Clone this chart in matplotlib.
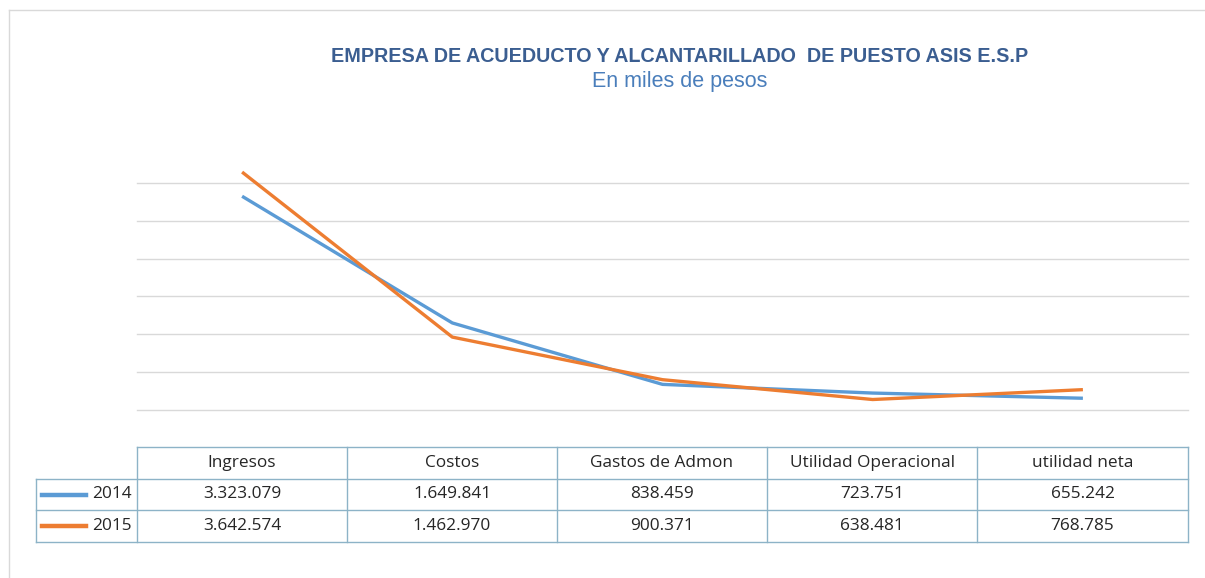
import matplotlib.pyplot as plt
from matplotlib.lines import Line2D

categorias = ['Ingresos', 'Costos', 'Gastos de Admon', 'Utilidad Operacional', 'utilidad neta']
anios = ['2014', '2015']
v2014 = [3323079, 1649841, 838459, 723751, 655242]
v2015 = [3642574, 1462970, 900371, 638481, 768785]
colores = ['#5B9BD5', '#ED7D31']

plt.rcParams['font.family'] = ['Liberation Sans', 'DejaVu Sans']

W, H = 1205, 578
fig = plt.figure(figsize=(W / 100, H / 100), dpi=100)

def fx(px):
    return px / W

def fy(py):
    return 1 - py / H

# area del grafico
ax = fig.add_axes([fx(137), fy(410), fx(1188) - fx(137), fy(145) - fy(410)])
for serie, c in zip([v2014, v2015], colores):
    ax.plot(range(len(categorias)), serie, color=c, lw=2.4, solid_capstyle='butt')
ax.set_xlim(-0.5, len(categorias) - 0.5)
ax.set_ylim(500000, 4000000)
ax.set_yticks(range(500000, 4000000, 500000))
ax.grid(axis='y', color='#D9D9D9', lw=1)
ax.set_axisbelow(True)
for g in ax.get_ygridlines():
    g.set_clip_on(False)
ax.tick_params(left=False, bottom=False, labelleft=False, labelbottom=False)
for s in ax.spines.values():
    s.set_visible(False)

# titulos
fig.text(fx(680), fy(57), 'EMPRESA DE ACUEDUCTO Y ALCANTARILLADO  DE PUESTO ASIS E.S.P',
         ha='center', va='center', fontsize=14.2, fontweight='bold', color='#3B5E91')
fig.text(fx(680), fy(81), 'En miles de pesos', ha='center', va='center',
         fontsize=15.5, color='#4A7EBB')

# tabla de datos
borde = '#8DB3C7'
col_x = [137, 347, 557, 767, 977, 1188]
fil_y = [447, 479, 510, 542]
izq = 36

def linea(x0, y0, x1, y1):
    fig.add_artist(Line2D([fx(x0), fx(x1)], [fy(y0), fy(y1)], color=borde, lw=1))

linea(col_x[0], fil_y[0], col_x[-1], fil_y[0])
for yy in fil_y[1:]:
    linea(izq, yy, col_x[-1], yy)
for xx in col_x:
    linea(xx, fil_y[0], xx, fil_y[-1])
linea(izq, fil_y[1], izq, fil_y[-1])

tfont = ['Open Sans', 'DejaVu Sans']
tsize = 12.4
for i, cat in enumerate(categorias):
    cx = (col_x[i] + col_x[i + 1]) / 2
    fig.text(fx(cx), fy((fil_y[0] + fil_y[1]) / 2), cat, ha='center', va='center',
             fontsize=tsize, color='#262626', family=tfont)

filas = [v2014, v2015]
for r, (serie, anio, c) in enumerate(zip(filas, anios, colores)):
    cy = (fil_y[r + 1] + fil_y[r + 2]) / 2
    fig.add_artist(Line2D([fx(42), fx(86)], [fy(cy), fy(cy)], color=c, lw=3.2))
    fig.text(fx(132), fy(cy), anio, ha='right', va='center', fontsize=tsize,
             color='#262626', family=tfont)
    for i, v in enumerate(serie):
        cx = (col_x[i] + col_x[i + 1]) / 2
        txt = f'{v:,}'.replace(',', '.')
        fig.text(fx(cx), fy(cy), txt, ha='center', va='center', fontsize=tsize,
                 color='#262626', family=tfont)

# marco exterior
fig.add_artist(Line2D([fx(9), fx(W)], [fy(10), fy(10)], color='#D9D9D9', lw=1))
fig.add_artist(Line2D([fx(9), fx(9)], [fy(10), fy(H)], color='#D9D9D9', lw=1))

fig.savefig('out.png', dpi=100)
